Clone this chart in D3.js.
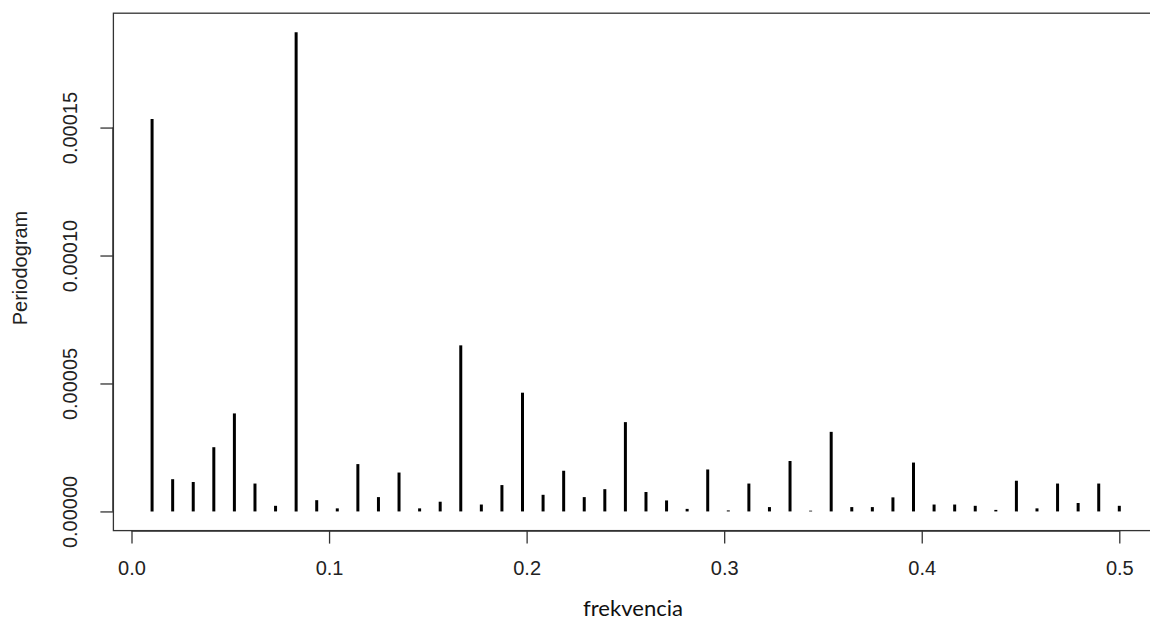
<!DOCTYPE html>
<html>
<head>
<meta charset="utf-8">
<script src="https://cdn.jsdelivr.net/npm/d3@7"></script>
<style>
  html, body { margin: 0; padding: 0; background: #fff; }
  svg { display: block; }
</style>
</head>
<body>
<svg id="chart" width="1150" height="622"></svg>
<script>
// Data: periodogram ordinates at Fourier frequencies k/96, k = 1..48
const harmonics = d3.range(1, 49);
const frequencies = harmonics.map(k => k / 96);
const periodogram = [
  1.533e-4, 1.26e-5, 1.15e-5, 2.51e-5, 3.83e-5, 1.09e-5, 2.2e-6, 1.872e-4,
  4.4e-6, 1.2e-6, 1.85e-5, 5.6e-6, 1.52e-5, 1.2e-6, 3.8e-6, 6.49e-5,
  2.7e-6, 1.03e-5, 4.64e-5, 6.5e-6, 1.59e-5, 5.6e-6, 8.7e-6, 3.49e-5,
  7.6e-6, 4.3e-6, 1.0e-6, 1.64e-5, 4e-7, 1.09e-5, 1.7e-6, 1.97e-5,
  3e-7, 3.11e-5, 1.7e-6, 1.7e-6, 5.5e-6, 1.91e-5, 2.7e-6, 2.7e-6,
  2.2e-6, 6e-7, 1.2e-5, 1.2e-6, 1.09e-5, 3.3e-6, 1.09e-5, 2.2e-6
];
const xTicks = [0.0, 0.1, 0.2, 0.3, 0.4, 0.5];
const xTickLabels = ["0.0", "0.1", "0.2", "0.3", "0.4", "0.5"];
const yTicks = [0, 0.00005, 0.00010, 0.00015];
const yTickLabels = ["0.00000", "0.00005", "0.00010", "0.00015"];
const xLabel = "frekvencia";
const yLabel = "Periodogram";

(function () {
const svg = d3.select("#chart");

// R-style 4% axis expansion
const xmin = d3.min(frequencies), xmax = d3.max(frequencies);
const ymin = 0, ymax = d3.max(periodogram);
const xpad = (xmax - xmin) * 0.04, ypad = (ymax - ymin) * 0.04;

const plotLeft = 113.4, plotTop = 13.2, plotBottom = 530.6;
const x0px = 131.5, x5px = 1119.3; // pixel positions of 0.0 and 0.5
const pxPerUnit = (x5px - x0px) / 0.5;
const x = d3.scaleLinear()
  .domain([xmin - xpad, xmax + xpad])
  .range([x0px + (xmin - xpad) * pxPerUnit, x0px + (xmax + xpad) * pxPerUnit]);
const y = d3.scaleLinear()
  .domain([ymin - ypad, ymax + ypad])
  .range([plotBottom, plotTop]);

const plotRight = x.range()[1];

// Spikes (type = "h")
svg.append("g")
  .selectAll("line")
  .data(periodogram)
  .join("line")
  .attr("x1", (d, i) => x(frequencies[i]))
  .attr("x2", (d, i) => x(frequencies[i]))
  .attr("y1", y(0))
  .attr("y2", d => y(d))
  .attr("stroke", "#000")
  .attr("stroke-width", 3);

// Box
svg.append("rect")
  .attr("x", plotLeft).attr("y", plotTop)
  .attr("width", plotRight - plotLeft).attr("height", plotBottom - plotTop)
  .attr("fill", "none").attr("stroke", "#333").attr("stroke-width", 1.3);

// X axis
const xAxis = d3.axisBottom(x)
  .tickValues(xTicks)
  .tickFormat((d, i) => xTickLabels[i])
  .tickSizeInner(13).tickSizeOuter(0).tickPadding(17);
const gx = svg.append("g").attr("transform", `translate(0,${plotBottom})`).call(xAxis);
gx.select(".domain").attr("d", `M${x(0)},0.5H${x(0.5)}`).attr("stroke", "#333").attr("stroke-width", 1.3);
gx.selectAll(".tick line").attr("stroke", "#333").attr("stroke-width", 1.3);
gx.selectAll(".tick text")
  .attr("font-family", "Liberation Sans, Arial, sans-serif")
  .attr("font-size", 20).attr("fill", "#222");

// Y axis
const yAxis = d3.axisLeft(y)
  .tickValues(yTicks)
  .tickFormat((d, i) => yTickLabels[i])
  .tickSizeInner(13).tickSizeOuter(0).tickPadding(0);
const gy = svg.append("g").attr("transform", `translate(${plotLeft},0)`).call(yAxis);
gy.select(".domain").attr("d", `M-0.5,${y(0)}V${y(0.00015)}`).attr("stroke", "#333").attr("stroke-width", 1.3);
gy.selectAll(".tick line").attr("stroke", "#333").attr("stroke-width", 1.3);
gy.selectAll(".tick text")
  .attr("font-family", "Liberation Sans, Arial, sans-serif")
  .attr("font-size", 20).attr("fill", "#222")
  .attr("text-anchor", "middle")
  .attr("dy", null)
  .attr("x", null)
  .attr("transform", "translate(-43,0) rotate(-90)")
  .attr("dominant-baseline", "central");

// Axis titles
const xt = svg.append("text")
  .attr("x", 633).attr("y", 616)
  .attr("text-anchor", "middle")
  .attr("font-family", "Lato, Open Sans, sans-serif")
  .attr("font-size", 22).attr("fill", "#111")
  .text(xLabel);
const w = xt.node().getComputedTextLength();
if (w > 0) xt.attr("font-size", 22 * 100 / w);

svg.append("text")
  .attr("transform", `translate(20,268) rotate(-90)`)
  .attr("text-anchor", "middle")
  .attr("dominant-baseline", "central")
  .attr("font-family", "Liberation Sans, Arial, sans-serif")
  .attr("font-size", 20).attr("fill", "#222")
  .text(yLabel);
})();
</script>
</body>
</html>
